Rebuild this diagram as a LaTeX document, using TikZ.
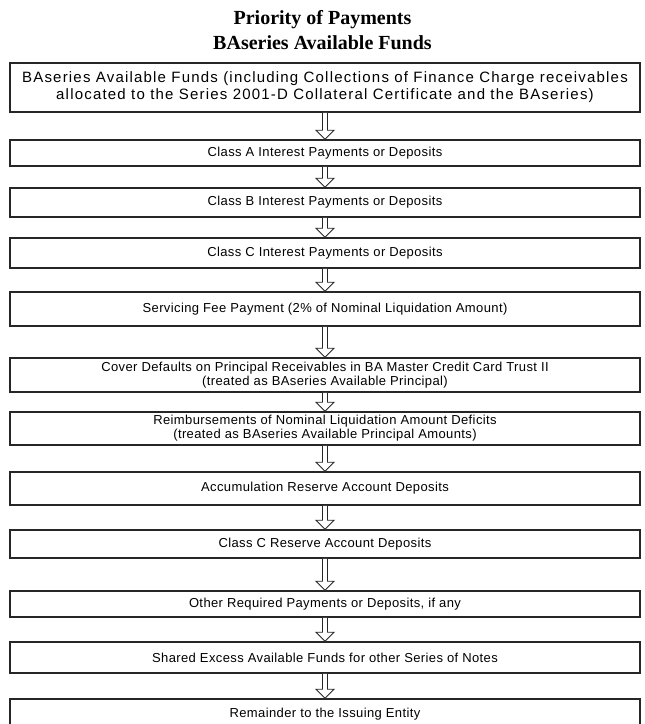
\documentclass[tikz,border=0pt]{standalone}
\usepackage{fontspec}
\setmainfont{Liberation Serif}
\newfontfamily\boxfont[LetterSpace=3]{Liberation Sans}
\newfontfamily\topfont[LetterSpace=8]{Liberation Sans}
\definecolor{edge}{HTML}{262626}
\begin{document}
\begin{tikzpicture}[x=1pt,y=-1pt,
  box/.style={draw=edge, line width=1.5pt, minimum width=630pt, inner sep=0pt, align=center, font=\boxfont\fontsize{13}{14}\selectfont},
  topbox/.style={box, font=\topfont\fontsize{15}{17}\selectfont},
  barrow/.style={draw=edge, line width=0.9pt, fill=white}]
\useasboundingbox (0,0) rectangle (645,724);
\node[font=\bfseries\fontsize{20}{25}\selectfont, align=center] (title) at (322.5,30) {Priority of Payments\\BAseries Available Funds};
\node[topbox, minimum height=49pt] (b1) at (325,87.5) {BAseries Available Funds (including Collections of Finance Charge receivables\\allocated to the Series 2001-D Collateral Certificate and the BAseries)};
\node[box, minimum height=26pt] (b2) at (325,153) {Class A Interest Payments or Deposits};
\node[box, minimum height=29pt] (b3) at (325,202.5) {Class B Interest Payments or Deposits};
\node[box, minimum height=30pt] (b4) at (325,253) {Class C Interest Payments or Deposits};
\node[box, minimum height=34pt] (b5) at (325,309) {Servicing Fee Payment (2\% of Nominal Liquidation Amount)};
\node[box, minimum height=34pt] (b6) at (325,375) {Cover Defaults on Principal Receivables in BA Master Credit Card Trust II\\(treated as BAseries Available Principal)};
\node[box, minimum height=33pt] (b7) at (325,428.5) {Reimbursements of Nominal Liquidation Amount Deficits\\(treated as BAseries Available Principal Amounts)};
\node[box, minimum height=33pt] (b8) at (325,488.5) {Accumulation Reserve Account Deposits};
\node[box, minimum height=28pt] (b9) at (325,544) {Class C Reserve Account Deposits};
\node[box, minimum height=26pt] (b10) at (325,604) {Other Required Payments or Deposits, if any};
\node[box, minimum height=31pt] (b11) at (325,657.5) {Shared Excess Available Funds for other Series of Notes};
\node[box, minimum height=31pt] (b12) at (325,714.5) {Remainder to the Issuing Entity};
\foreach \a/\b in {b1/b2,b2/b3,b3/b4,b4/b5,b5/b6,b6/b7,b7/b8,b8/b9,b9/b10,b10/b11,b11/b12}{
  \draw[barrow] ([xshift=-2.5pt]\a.south) -- ([xshift=-2.5pt,yshift=9pt]\b.north) -- ([xshift=-9pt,yshift=9pt]\b.north) -- (\b.north) -- ([xshift=9pt,yshift=9pt]\b.north) -- ([xshift=2.5pt,yshift=9pt]\b.north) -- ([xshift=2.5pt]\a.south);
}
\end{tikzpicture}
\end{document}
